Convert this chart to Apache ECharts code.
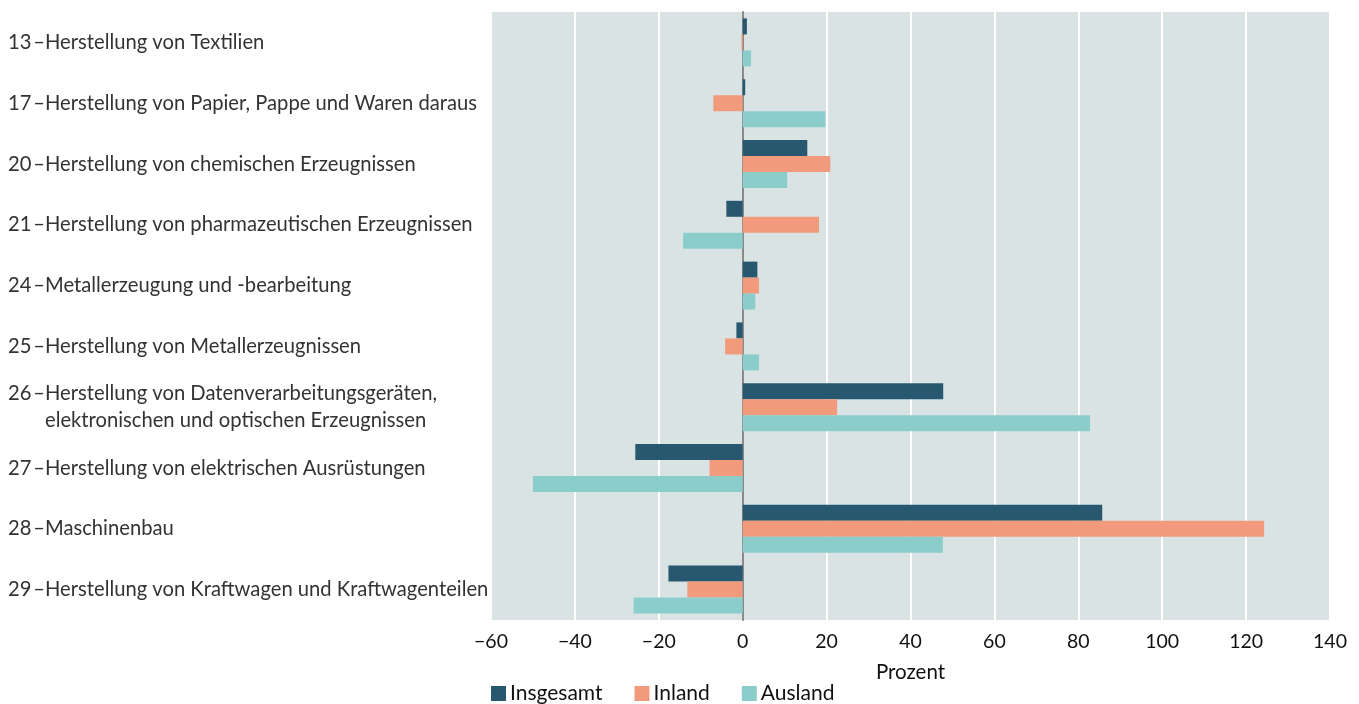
<!DOCTYPE html>
<html>
<head>
<meta charset="utf-8">
<script src="https://cdn.jsdelivr.net/npm/echarts@6/dist/echarts.min.js"></script>
<style>html,body{margin:0;padding:0;background:#fff}#c{width:1359px;height:704px}</style>
</head>
<body>
<div id="c"></div>
<script>
const codes = ['13','17','20','21','24','25','26','27','28','29'];
const names = [
  ['Herstellung von Textilien'],
  ['Herstellung von Papier, Pappe und Waren daraus'],
  ['Herstellung von chemischen Erzeugnissen'],
  ['Herstellung von pharmazeutischen Erzeugnissen'],
  ['Metallerzeugung und -bearbeitung'],
  ['Herstellung von Metallerzeugnissen'],
  ['Herstellung von Datenverarbeitungsgeräten,', 'elektronischen und optischen Erzeugnissen'],
  ['Herstellung von elektrischen Ausrüstungen'],
  ['Maschinenbau'],
  ['Herstellung von Kraftwagen und Kraftwagenteilen']
];
const insgesamt = [1.0, 0.6, 15.4, -3.9, 3.5, -1.5, 47.8, -25.6, 85.7, -17.7];
const inland    = [-0.3, -7.0, 20.9, 18.2, 3.9, -4.2, 22.5, -7.9, 124.3, -13.2];
const ausland   = [2.0, 19.7, 10.6, -14.2, 3.0, 3.9, 82.8, -50.0, 47.7, -26.0];
const xTicks = [-60, -40, -20, 0, 20, 40, 60, 80, 100, 120, 140];

const FONT = 'Lato';
const LS = 20.2;
const categories = codes.slice();
const chart = echarts.init(document.getElementById('c'));
chart.setOption({
  backgroundColor: '#ffffff',
  textStyle: { fontFamily: FONT },
  grid: { left: 491, right: 29, top: 12, bottom: 84, containLabel: false,
          show: true, backgroundColor: '#d9e3e4', borderWidth: 0 },
  legend: {
    left: 491, top: 683, padding: 0, itemWidth: 15, itemHeight: 15, itemGap: 32,
    icon: 'rect',
    textStyle: { fontFamily: FONT, fontSize: 21, color: '#111', padding: [0, 0, 0, -1] },
    data: ['Insgesamt', 'Inland', 'Ausland']
  },
  xAxis: {
    type: 'value', min: -60, max: 140, interval: 20,
    name: 'Prozent', nameLocation: 'middle', nameGap: 42,
    nameTextStyle: { fontFamily: FONT, fontSize: 20.5, color: '#111' },
    axisLine: { show: false }, axisTick: { show: false },
    axisLabel: { fontFamily: FONT, fontSize: 19.5, color: '#111', margin: 12,
      formatter: v => xTicks.includes(v) ? String(v).replace('-', '\u2212') : '' },
    splitLine: { show: true, lineStyle: { color: '#ffffff', width: 2 } }
  },
  yAxis: {
    type: 'category', inverse: true, data: categories,
    axisLine: { show: true, onZero: true, lineStyle: { color: '#8a8a8a', width: 2 } },
    axisTick: { show: false },
    splitLine: { show: false },
    axisLabel: {
      align: 'left', margin: 483, color: '#333',
      formatter: (v, i) => {
        const n = names[i];
        let s = '{n|' + codes[i] + '}{d|\u2013}{t|' + n[0] + '}';
        for (let k = 1; k < n.length; k++) s += '\n{i| }{t|' + n[k] + '}';
        return s;
      },
      rich: {
        n: { width: 25, align: 'left', fontSize: LS, fontFamily: FONT, color: '#333', lineHeight: 27 },
        d: { width: 12, align: 'center', fontSize: LS, fontFamily: FONT, color: '#333', lineHeight: 27 },
        i: { width: 37, fontSize: LS, fontFamily: FONT, lineHeight: 27 },
        t: { fontSize: LS, fontFamily: FONT, color: '#333', lineHeight: 27 }
      }
    }
  },
  series: [
    { name: 'Insgesamt', type: 'bar', data: insgesamt, barWidth: 16, barGap: '0%',
      itemStyle: { color: '#27586f' }, z: 1 },
    { name: 'Inland', type: 'bar', data: inland, barWidth: 16, barGap: '0%',
      itemStyle: { color: '#f29b7c' }, z: 1 },
    { name: 'Ausland', type: 'bar', data: ausland, barWidth: 16, barGap: '0%',
      itemStyle: { color: '#8bcdca' }, z: 1 }
  ]
});
</script>
</body>
</html>
